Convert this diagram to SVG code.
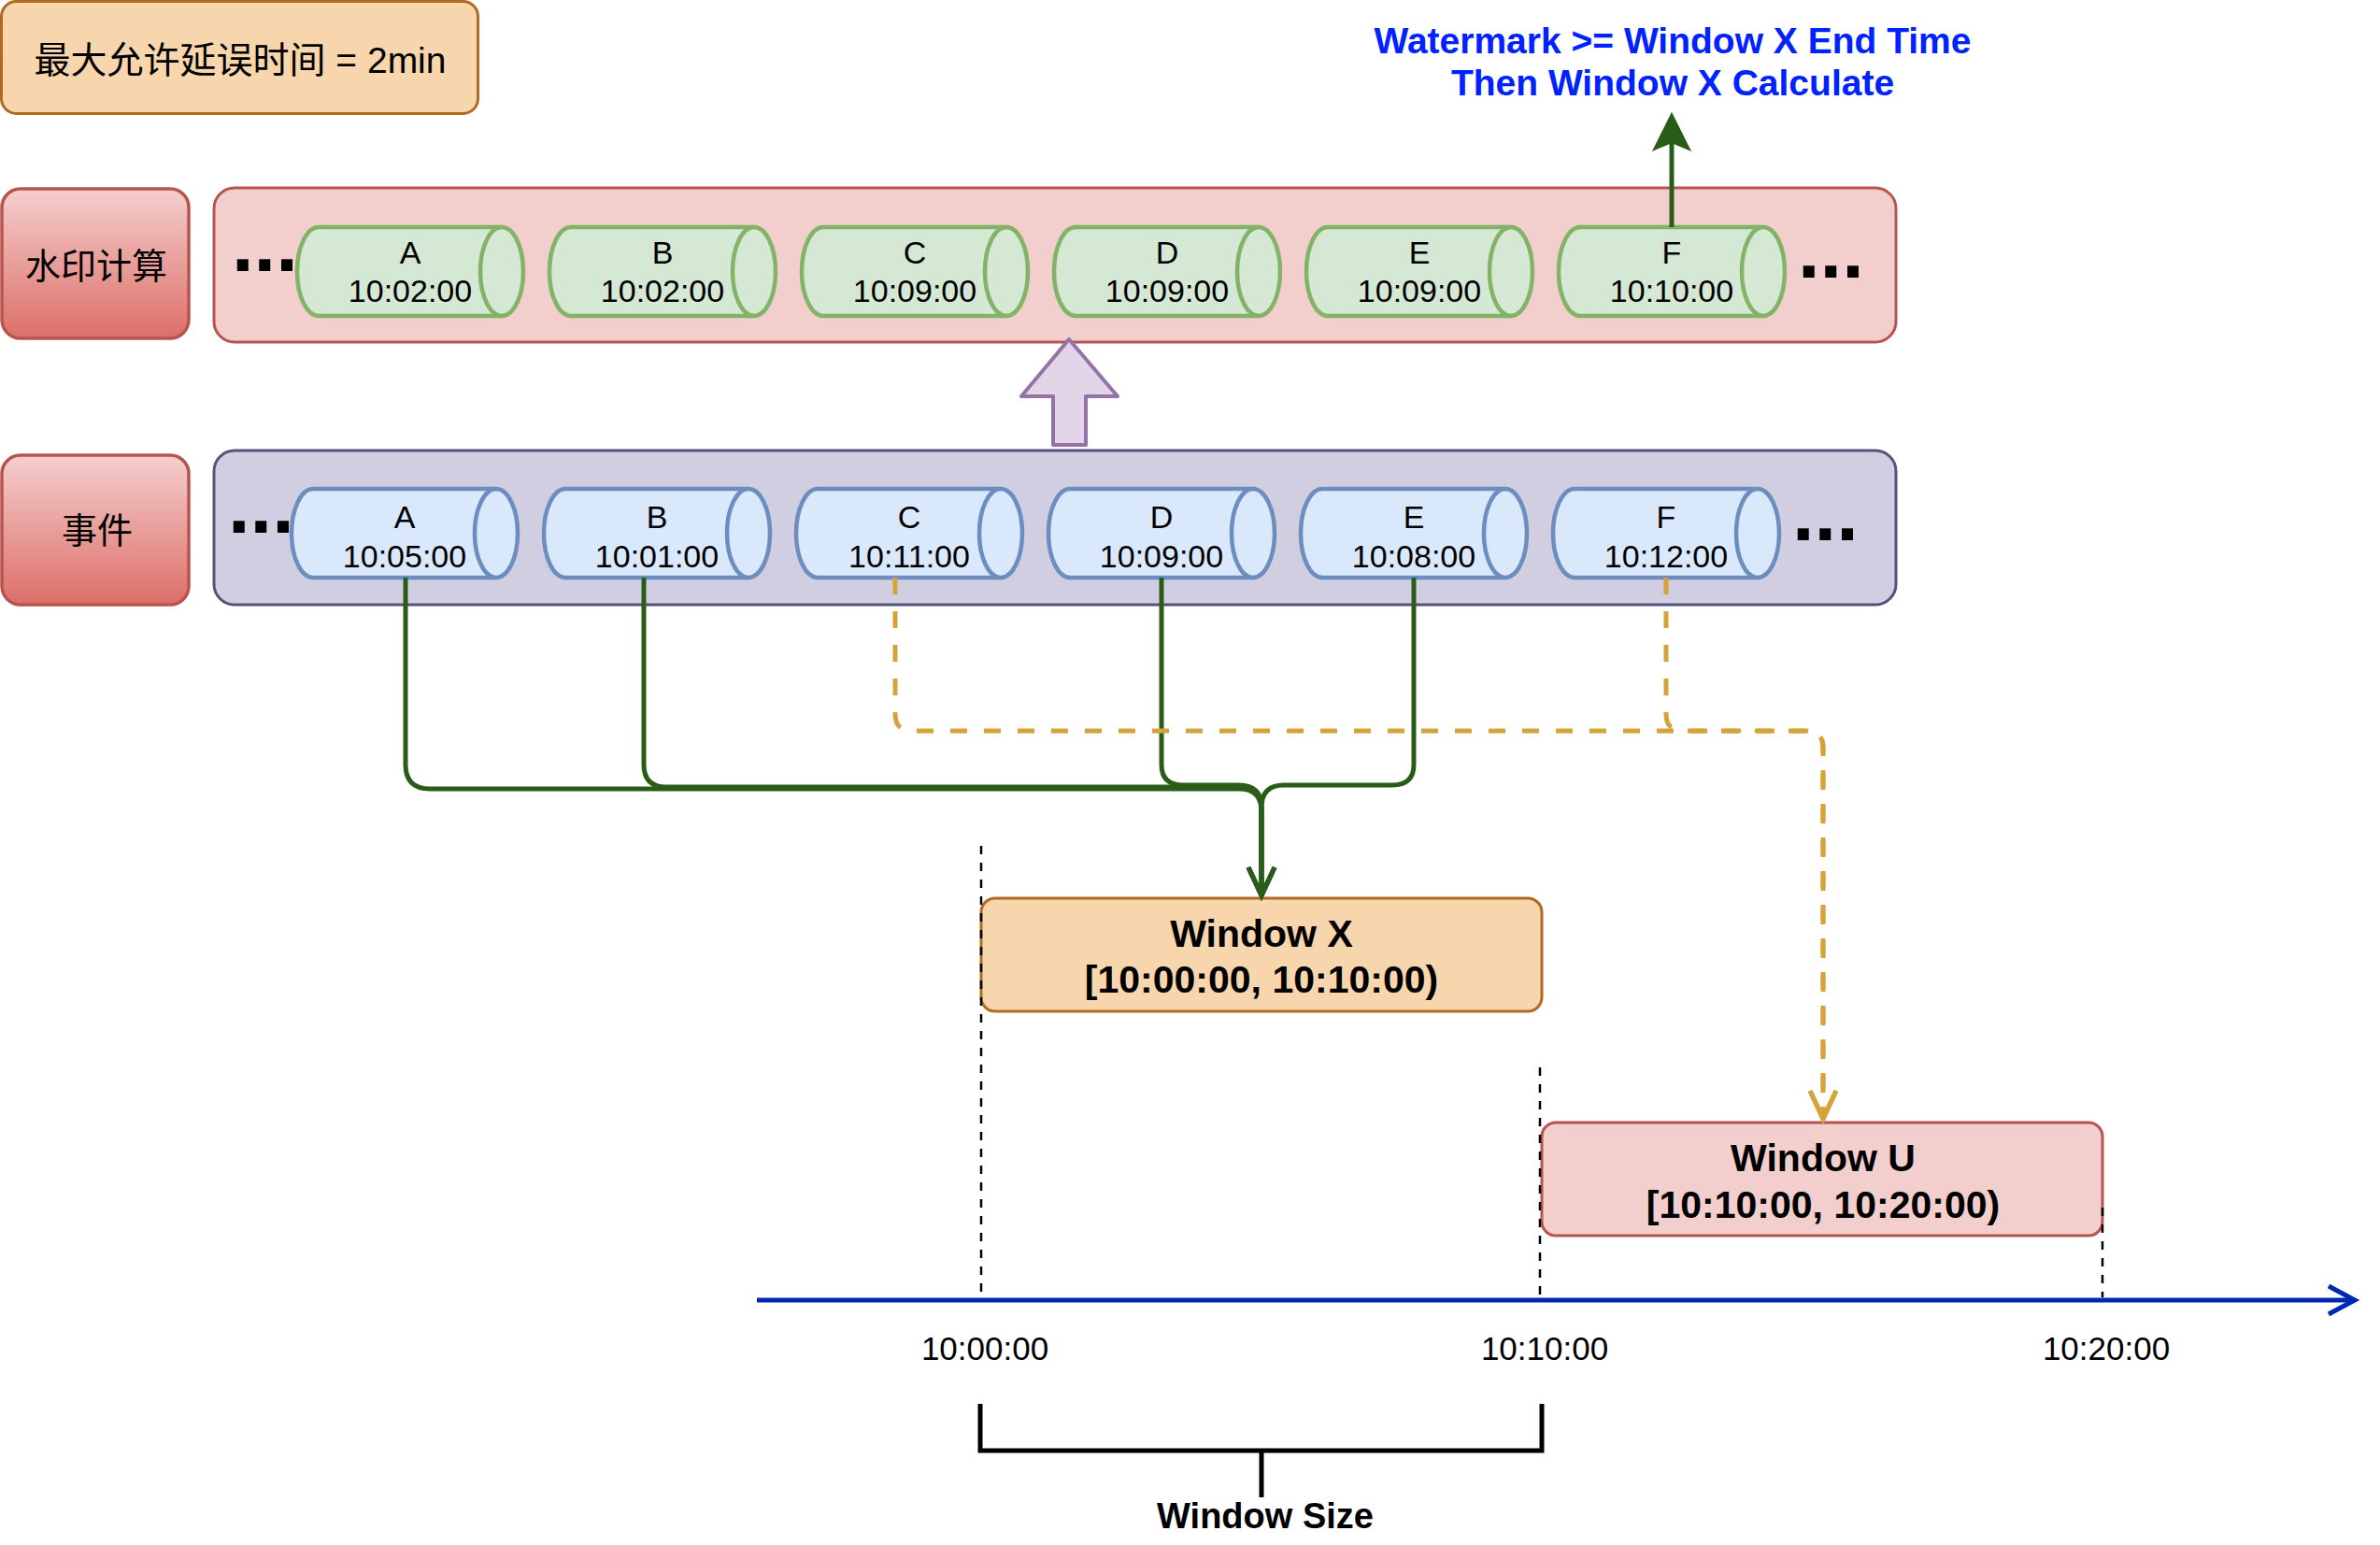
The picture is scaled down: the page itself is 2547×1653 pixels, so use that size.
<svg xmlns="http://www.w3.org/2000/svg" width="2547" height="1653" viewBox="0 0 2547 1653">
<defs>
<style>
text{font-family:"Liberation Sans","Noto Sans CJK SC",sans-serif;fill:#000}
.t38{font-size:38px}
.ct{font-size:34px;text-anchor:middle}
.b{font-weight:bold}
.mid{text-anchor:middle}
.dots{font-size:85px;font-weight:bold}
.cylG path{fill:#d5e8d4;stroke:#82b366;stroke-width:4.5}
.cylB path{fill:#dae8fc;stroke:#6c8ebf;stroke-width:4.5}
.green{fill:none;stroke:#2a5c19;stroke-width:5}
.orange{fill:none;stroke:#d6a23a;stroke-width:5;stroke-dasharray:18 18}
.vdash{fill:none;stroke:#000;stroke-width:2.5;stroke-dasharray:9 9}
.lbl{fill:url(#redGrad);stroke:#b85450;stroke-width:3.5}
</style>
<linearGradient id="redGrad" x1="0" y1="0" x2="0" y2="1">
<stop offset="0" stop-color="#f4cfcd"/>
<stop offset="1" stop-color="#dd6e68"/>
</linearGradient>
<marker id="openG" markerUnits="userSpaceOnUse" markerWidth="40" markerHeight="40" refX="30" refY="14" orient="auto" overflow="visible">
<path d="M0,0 L30,14 L0,28" fill="none" stroke="#2a5c19" stroke-width="5"/>
</marker>
<marker id="openO" markerUnits="userSpaceOnUse" markerWidth="40" markerHeight="40" refX="30" refY="14" orient="auto" overflow="visible">
<path d="M0,0 L30,14 L0,28" fill="none" stroke="#d6a23a" stroke-width="5"/>
</marker>
</defs>

<g id="max-delay">
<rect x="1.5" y="1.5" width="510" height="120" rx="16" fill="#f7d6ad" stroke="#b26a22" stroke-width="3"/>
<text class="mid" x="257" y="78" font-size="39">最大允许延误时间 = 2min</text>
</g>

<g id="watermark-note">
<text class="b mid" x="1790" y="57" font-size="39" style="fill:#0022ff">Watermark &gt;= Window X End Time</text>
<text class="b mid" x="1790" y="102" font-size="39" style="fill:#0022ff">Then Window X Calculate</text>
</g>

<g id="label-watermark">
<rect class="lbl" x="2" y="202" width="200" height="160" rx="20"/>
<text class="t38 mid" x="103" y="298">水印计算</text>
</g>
<g id="label-events">
<rect class="lbl" x="2" y="487" width="200" height="160" rx="20"/>
<text class="t38 mid" x="104" y="581">事件</text>
</g>

<g id="watermark-row">
<rect x="229" y="201" width="1800" height="165" rx="22" fill="#f2cecc" stroke="#b85450" stroke-width="3"/>
<text class="dots" x="248" y="290">...</text>
<text class="dots" x="1924" y="297">...</text>
</g>
<g id="event-row">
<rect x="229" y="482" width="1800" height="165" rx="22" fill="#d1cee2" stroke="#56517e" stroke-width="3"/>
<text class="dots" x="244" y="570">...</text>
<text class="dots" x="1918" y="578">...</text>
</g>

<g id="wm-A" class="cylG"><path d="M341,243 H537 A23,47.5 0 0 1 537,338 H341 A23,47.5 0 0 1 341,243 Z"/><path d="M537,243 A23,47.5 0 0 0 537,338"/><text class="ct" x="439" y="282">A</text><text class="ct" x="439" y="323">10:02:00</text></g>
<g id="wm-B" class="cylG"><path d="M611,243 H807 A23,47.5 0 0 1 807,338 H611 A23,47.5 0 0 1 611,243 Z"/><path d="M807,243 A23,47.5 0 0 0 807,338"/><text class="ct" x="709" y="282">B</text><text class="ct" x="709" y="323">10:02:00</text></g>
<g id="wm-C" class="cylG"><path d="M881,243 H1077 A23,47.5 0 0 1 1077,338 H881 A23,47.5 0 0 1 881,243 Z"/><path d="M1077,243 A23,47.5 0 0 0 1077,338"/><text class="ct" x="979" y="282">C</text><text class="ct" x="979" y="323">10:09:00</text></g>
<g id="wm-D" class="cylG"><path d="M1151,243 H1347 A23,47.5 0 0 1 1347,338 H1151 A23,47.5 0 0 1 1151,243 Z"/><path d="M1347,243 A23,47.5 0 0 0 1347,338"/><text class="ct" x="1249" y="282">D</text><text class="ct" x="1249" y="323">10:09:00</text></g>
<g id="wm-E" class="cylG"><path d="M1421,243 H1617 A23,47.5 0 0 1 1617,338 H1421 A23,47.5 0 0 1 1421,243 Z"/><path d="M1617,243 A23,47.5 0 0 0 1617,338"/><text class="ct" x="1519" y="282">E</text><text class="ct" x="1519" y="323">10:09:00</text></g>
<g id="wm-F" class="cylG"><path d="M1691,243 H1887 A23,47.5 0 0 1 1887,338 H1691 A23,47.5 0 0 1 1691,243 Z"/><path d="M1887,243 A23,47.5 0 0 0 1887,338"/><text class="ct" x="1789" y="282">F</text><text class="ct" x="1789" y="323">10:10:00</text></g>

<g id="ev-A" class="cylB"><path d="M335,523 H531 A23,47.5 0 0 1 531,618 H335 A23,47.5 0 0 1 335,523 Z"/><path d="M531,523 A23,47.5 0 0 0 531,618"/><text class="ct" x="433" y="565">A</text><text class="ct" x="433" y="607">10:05:00</text></g>
<g id="ev-B" class="cylB"><path d="M605,523 H801 A23,47.5 0 0 1 801,618 H605 A23,47.5 0 0 1 605,523 Z"/><path d="M801,523 A23,47.5 0 0 0 801,618"/><text class="ct" x="703" y="565">B</text><text class="ct" x="703" y="607">10:01:00</text></g>
<g id="ev-C" class="cylB"><path d="M875,523 H1071 A23,47.5 0 0 1 1071,618 H875 A23,47.5 0 0 1 875,523 Z"/><path d="M1071,523 A23,47.5 0 0 0 1071,618"/><text class="ct" x="973" y="565">C</text><text class="ct" x="973" y="607">10:11:00</text></g>
<g id="ev-D" class="cylB"><path d="M1145,523 H1341 A23,47.5 0 0 1 1341,618 H1145 A23,47.5 0 0 1 1145,523 Z"/><path d="M1341,523 A23,47.5 0 0 0 1341,618"/><text class="ct" x="1243" y="565">D</text><text class="ct" x="1243" y="607">10:09:00</text></g>
<g id="ev-E" class="cylB"><path d="M1415,523 H1611 A23,47.5 0 0 1 1611,618 H1415 A23,47.5 0 0 1 1415,523 Z"/><path d="M1611,523 A23,47.5 0 0 0 1611,618"/><text class="ct" x="1513" y="565">E</text><text class="ct" x="1513" y="607">10:08:00</text></g>
<g id="ev-F" class="cylB"><path d="M1685,523 H1881 A23,47.5 0 0 1 1881,618 H1685 A23,47.5 0 0 1 1685,523 Z"/><path d="M1881,523 A23,47.5 0 0 0 1881,618"/><text class="ct" x="1783" y="565">F</text><text class="ct" x="1783" y="607">10:12:00</text></g>

<g id="compute-arrow">
<polygon points="1144,363 1196,424 1162,424 1162,476 1127,476 1127,424 1093,424" fill="#e1d5e7" stroke="#9673a6" stroke-width="4" stroke-linejoin="round"/>
</g>

<g id="window-x">
<rect x="1050" y="961" width="600" height="121" rx="15" fill="#f7d6ad" stroke="#b26a22" stroke-width="3"/>
<text class="b mid" x="1350" y="1013" font-size="41">Window X</text>
<text class="b mid" x="1350" y="1062" font-size="41">[10:00:00, 10:10:00)</text>
</g>
<g id="window-u">
<rect x="1650" y="1201" width="600" height="121" rx="15" fill="#f2cecc" stroke="#b85450" stroke-width="3"/>
<text class="b mid" x="1951" y="1253" font-size="41">Window U</text>
<text class="b mid" x="1951" y="1303" font-size="41">[10:10:00, 10:20:00)</text>
</g>

<g id="timeline">
<path d="M810,1391 H2518" fill="none" stroke="#0027b3" stroke-width="5"/>
<path d="M2492,1376 L2520,1391 L2492,1406" fill="none" stroke="#0027b3" stroke-width="5"/>
<path class="vdash" d="M1050,905 V1386"/>
<path class="vdash" d="M1648,1142 V1386"/>
<path class="vdash" d="M2250,1292 V1388"/>
<text class="mid" x="1054" y="1455" font-size="35">10:00:00</text>
<text class="mid" x="1653" y="1455" font-size="35">10:10:00</text>
<text class="mid" x="2254" y="1455" font-size="35">10:20:00</text>
</g>

<g id="window-size">
<path d="M1049,1502 V1552 H1650 V1502 M1350,1552 V1602" fill="none" stroke="#000" stroke-width="5"/>
<text class="b mid" x="1354" y="1635" font-size="38">Window Size</text>
</g>

<g id="connectors">
<path class="green" d="M434,618 V818 Q434,844 460,844 H1326 Q1350,844 1350,868 V958" marker-end="url(#openG)"/>
<path class="green" d="M689,618 V818 Q689,842 713,842 H1326 Q1350,842 1350,866 V958" marker-end="url(#openG)"/>
<path class="green" d="M1243,618 V818 Q1243,840 1266,840 H1326 Q1350,840 1350,864 V958" marker-end="url(#openG)"/>
<path class="green" d="M1513,618 V818 Q1513,840 1490,840 H1374 Q1350,840 1350,864 V958" marker-end="url(#openG)"/>
<path class="orange" d="M958,618 V764 Q958,782 976,782 H1933 Q1951,782 1951,800 V1197" marker-end="url(#openO)"/>
<path class="orange" d="M1783,618 V764 Q1783,782 1801,782 H1933 Q1951,782 1951,800 V1197" marker-end="url(#openO)"/>
<path class="green" d="M1789,243 V152"/>
<polygon points="1789,122 1808,160 1789,152 1770,160" fill="#2a5c19" stroke="#2a5c19" stroke-width="2"/>
</g>
</svg>
